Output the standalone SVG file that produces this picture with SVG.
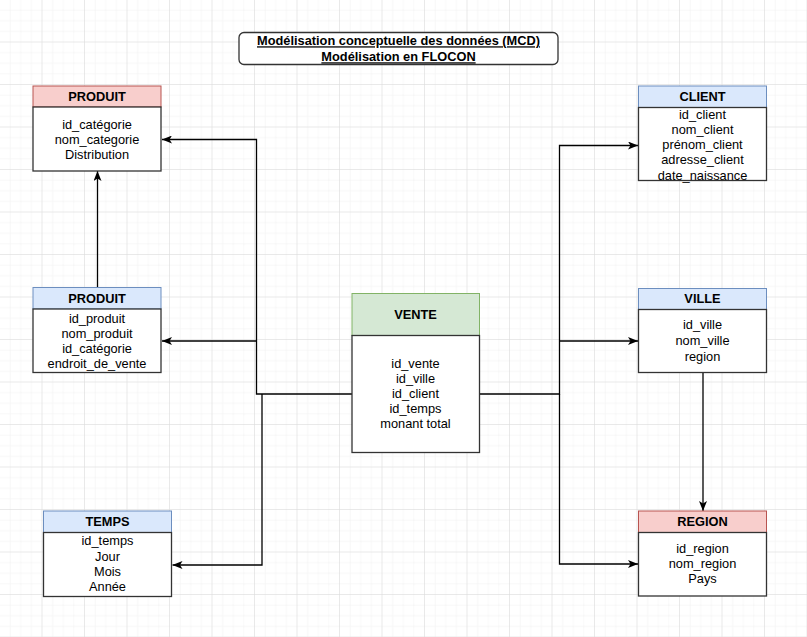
<svg xmlns="http://www.w3.org/2000/svg" width="807" height="637" viewBox="0 0 807 637">
<defs>
<pattern id="minor" width="10.625" height="10.625" patternUnits="userSpaceOnUse">
<path d="M10.625,0 V10.625 H0" fill="none" stroke="#f0f0f0" stroke-width="1"/>
</pattern>
<pattern id="major" width="42.5" height="42.5" patternUnits="userSpaceOnUse">
<rect width="42.5" height="42.5" fill="url(#minor)"/>
<path d="M42.5,0 V42.5 H0" fill="none" stroke="#dadada" stroke-width="1"/>
</pattern>
<marker id="arr" viewBox="0 0 10 8" refX="10" refY="4" markerWidth="10" markerHeight="8" markerUnits="userSpaceOnUse" orient="auto">
<path d="M0,0 L10,4 L0,8 L2.5,4 Z" fill="#000"/>
</marker>
</defs>
<style>
.hdr-red{fill:#f8cecc;stroke:#b85450;stroke-width:1}
.hdr-blue{fill:#dae8fc;stroke:#6c8ebf;stroke-width:1}
.hdr-green{fill:#d5e8d4;stroke:#82b366;stroke-width:1}
.body{fill:#fff;stroke:#333;stroke-width:1.3}
text{font-family:"Liberation Sans",Arial,sans-serif;font-size:12.8px;fill:#000;text-anchor:middle}
.h{font-weight:bold}
.title{font-weight:bold;text-decoration:underline}
.conn{fill:none;stroke:#000;stroke-width:1.3}
</style>
<rect width="807" height="637" fill="#fff"/>
<rect width="807" height="637" fill="url(#major)"/>

<g id="title">
<rect x="239" y="32.5" width="319" height="32" rx="5" fill="#fff" stroke="#333" stroke-width="1.3"/>
<text class="title" x="398.5" y="45.3">Modélisation conceptuelle des données (MCD)</text>
<text class="title" x="398.5" y="61.3">Modélisation en FLOCON</text>
</g>

<g id="connectors">
<path class="conn" d="M352,394 H256.5 V139.5 H162" marker-end="url(#arr)"/>
<path class="conn" d="M256.5,341 H162" marker-end="url(#arr)"/>
<path class="conn" d="M262,394 V565 H172.5" marker-end="url(#arr)"/>
<path class="conn" d="M479,394 H559.5 V145.5 H638" marker-end="url(#arr)"/>
<path class="conn" d="M559.5,341 H638" marker-end="url(#arr)"/>
<path class="conn" d="M559.5,394 V564 H638" marker-end="url(#arr)"/>
<path class="conn" d="M97.5,287 V171" marker-end="url(#arr)"/>
<path class="conn" d="M703,372.5 V511" marker-end="url(#arr)"/>
</g>

<g id="produit-categorie">
<rect class="hdr-red" x="33" y="86" width="128" height="21"/>
<rect class="body" x="33" y="107" width="128" height="64"/>
<text class="h" x="97" y="101.3">PRODUIT</text>
<text x="97" y="128.5">id_catégorie</text>
<text x="97" y="143.5">nom_categorie</text>
<text x="97" y="158.5">Distribution</text>
</g>

<g id="produit">
<rect class="hdr-blue" x="33" y="287.5" width="128" height="21.5"/>
<rect class="body" x="33" y="309" width="128" height="63.5"/>
<text class="h" x="97" y="302.8">PRODUIT</text>
<text x="97" y="322.8">id_produit</text>
<text x="97" y="337.8">nom_produit</text>
<text x="97" y="353.3">id_catégorie</text>
<text x="97" y="367.8">endroit_de_vente</text>
</g>

<g id="temps">
<rect class="hdr-blue" x="43.5" y="511" width="128" height="21.5"/>
<rect class="body" x="43.5" y="532.5" width="128" height="64"/>
<text class="h" x="107.5" y="526.3">TEMPS</text>
<text x="107.5" y="545.3">id_temps</text>
<text x="107.5" y="561.3">Jour</text>
<text x="107.5" y="575.8">Mois</text>
<text x="107.5" y="591.3">Année</text>
</g>

<g id="vente">
<rect class="hdr-green" x="352" y="293.5" width="127.5" height="42"/>
<rect class="body" x="352" y="335.5" width="127.5" height="117"/>
<text class="h" x="415.5" y="318.8">VENTE</text>
<text x="415.5" y="368.3">id_vente</text>
<text x="415.5" y="383.3">id_ville</text>
<text x="415.5" y="397.8">id_client</text>
<text x="415.5" y="412.8">id_temps</text>
<text x="415.5" y="428.3">monant total</text>
</g>

<g id="client">
<rect class="hdr-blue" x="638.5" y="86" width="128" height="21.5"/>
<rect class="body" x="638.5" y="107.5" width="128" height="73"/>
<text class="h" x="702.5" y="101.3">CLIENT</text>
<text x="702.5" y="118.8">id_client</text>
<text x="702.5" y="134.3">nom_client</text>
<text x="702.5" y="149.3">prénom_client</text>
<text x="702.5" y="164.3">adresse_client</text>
<text x="702.5" y="180.3">date_naissance</text>
</g>

<g id="ville">
<rect class="hdr-blue" x="638.5" y="288.5" width="128" height="21"/>
<rect class="body" x="638.5" y="309.5" width="128" height="63"/>
<text class="h" x="702.5" y="303.3">VILLE</text>
<text x="702.5" y="329.3">id_ville</text>
<text x="702.5" y="345.3">nom_ville</text>
<text x="702.5" y="360.8">region</text>
</g>

<g id="region">
<rect class="hdr-red" x="638.5" y="511" width="128" height="21.5"/>
<rect class="body" x="638.5" y="532.5" width="128" height="63.5"/>
<text class="h" x="702.5" y="526.3">REGION</text>
<text x="702.5" y="553.3">id_region</text>
<text x="702.5" y="567.8">nom_region</text>
<text x="702.5" y="583.3">Pays</text>
</g>
</svg>
